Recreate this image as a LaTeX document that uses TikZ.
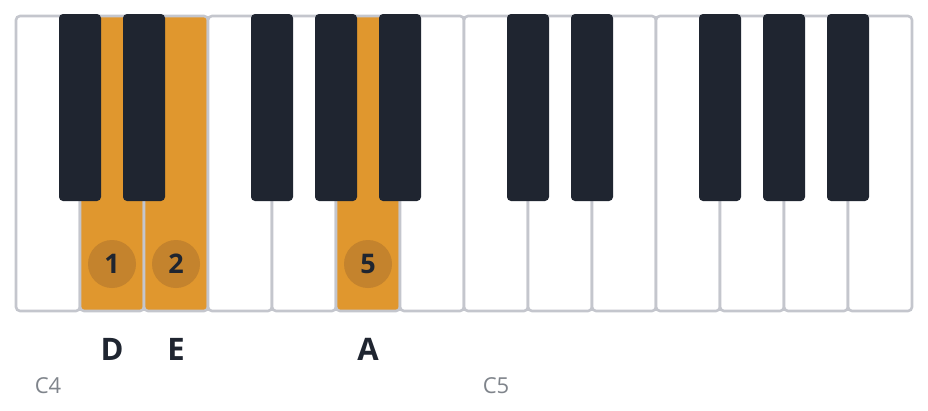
\documentclass[tikz,border=0pt]{standalone}
\usepackage{fontspec}
\setmainfont{Open Sans}
\definecolor{keyline}{HTML}{C4C6CD}
\definecolor{keyblack}{HTML}{1F2530}
\definecolor{keyhit}{HTML}{E0972E}
\definecolor{fingerdot}{HTML}{C4832D}
\definecolor{octgray}{HTML}{7F848B}
\tikzset{
  wkey/.style={draw=keyline,line width=2.6pt,rounded corners=4pt,fill=white},
  hkey/.style={wkey,fill=keyhit},
  bkey/.style={fill=keyblack,rounded corners=4pt},
  finger/.style={circle,fill=fingerdot,minimum size=48pt,inner sep=0pt,
    text=keyblack,font=\bfseries\fontsize{27}{27}\selectfont},
  notename/.style={text=keyblack,font=\bfseries\fontsize{31}{31}\selectfont},
  octave/.style={text=octgray,font=\fontsize{22}{22}\selectfont}
}

\begin{document}
\begin{tikzpicture}[x=1pt,y=-1pt]
  \useasboundingbox (0,0) rectangle (928,410);
  % white keys
  \draw[wkey] ( 16,16) rectangle ( 80,311);
  \draw[hkey] ( 80,16) rectangle (144,311);
  \draw[hkey] (144,16) rectangle (208,311);
  \draw[wkey] (208,16) rectangle (272,311);
  \draw[wkey] (272,16) rectangle (336,311);
  \draw[hkey] (336,16) rectangle (400,311);
  \draw[wkey] (400,16) rectangle (464,311);
  \draw[wkey] (464,16) rectangle (528,311);
  \draw[wkey] (528,16) rectangle (592,311);
  \draw[wkey] (592,16) rectangle (656,311);
  \draw[wkey] (656,16) rectangle (720,311);
  \draw[wkey] (720,16) rectangle (784,311);
  \draw[wkey] (784,16) rectangle (848,311);
  \draw[wkey] (848,16) rectangle (912,311);
  % black keys
  \fill[bkey] ( 59,14) rectangle (101,201);
  \fill[bkey] (123,14) rectangle (165,201);
  \fill[bkey] (251,14) rectangle (293,201);
  \fill[bkey] (315,14) rectangle (357,201);
  \fill[bkey] (379,14) rectangle (421,201);
  \fill[bkey] (507,14) rectangle (549,201);
  \fill[bkey] (571,14) rectangle (613,201);
  \fill[bkey] (699,14) rectangle (741,201);
  \fill[bkey] (763,14) rectangle (805,201);
  \fill[bkey] (827,14) rectangle (869,201);
  % fingering
  \node[finger] (f1) at (112,264) {1};
  \node[finger] (f2) at (176,264) {2};
  \node[finger] (f5) at (368,264) {5};
  % note names
  \node[notename] (nD) at (112,349) {D};
  \node[notename] (nE) at (176,349) {E};
  \node[notename] (nA) at (368,349) {A};
  % octave marks
  \node[octave] (c4) at ( 48,386) {C4};
  \node[octave] (c5) at (496,386) {C5};
\end{tikzpicture}
\end{document}
